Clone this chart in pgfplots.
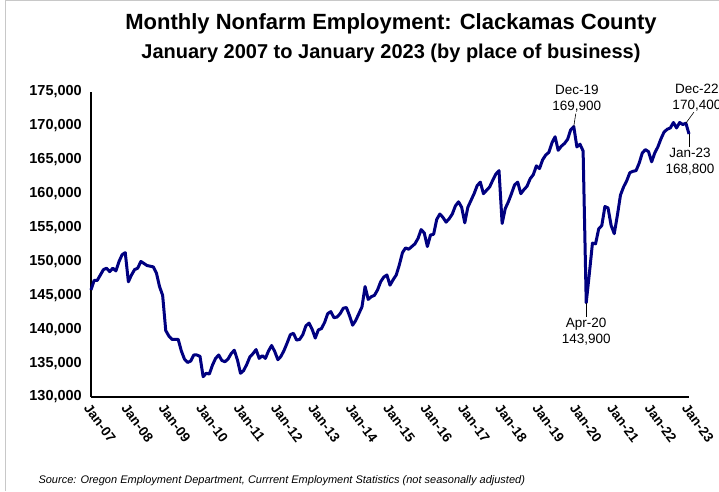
\documentclass[border=0pt]{standalone}
\usepackage{pgfplots}
\pgfplotsset{compat=1.18}
\usepackage{pgfplotstable}
\usepackage{fontspec}
\setmainfont{Liberation Sans}
\definecolor{navy}{RGB}{0,0,128}
\definecolor{framegray}{RGB}{200,200,200}
\pgfplotstableread{
m v
0 145800
1 147200
2 147200
3 148000
4 148800
5 149000
6 148500
7 149000
8 148600
9 150000
10 151000
11 151300
12 147000
13 148000
14 148800
15 149000
16 150000
17 149700
18 149400
19 149300
20 149200
21 148300
22 146300
23 145000
24 139800
25 139000
26 138500
27 138500
28 138500
29 136800
30 135600
31 135100
32 135300
33 136200
34 136200
35 136000
36 133000
37 133500
38 133400
39 134700
40 135700
41 136200
42 135400
43 135200
44 135600
45 136400
46 136900
47 135500
48 133500
49 133900
50 134800
51 135900
52 136400
53 137000
54 135700
55 136100
56 135700
57 136800
58 137600
59 136700
60 135500
61 136000
62 136900
63 138000
64 139200
65 139400
66 138400
67 138500
68 139200
69 140500
70 140900
71 140000
72 138700
73 139900
74 140100
75 141000
76 142300
77 142600
78 141700
79 141800
80 142300
81 143100
82 143200
83 142000
84 140600
85 141300
86 142300
87 143300
88 146300
89 144400
90 144800
91 145000
92 145800
93 147000
94 147700
95 148000
96 146500
97 147300
98 148000
99 149500
100 151300
101 152000
102 151800
103 152200
104 152600
105 153400
106 154700
107 154200
108 152200
109 153900
110 154000
111 156200
112 157000
113 156500
114 155800
115 156300
116 157000
117 158200
118 158800
119 158000
120 155700
121 158000
122 159000
123 160000
124 161200
125 161700
126 160000
127 160500
128 161000
129 162000
130 162900
131 163400
132 155600
133 157800
134 158800
135 160000
136 161300
137 161700
138 160000
139 160600
140 161100
141 162200
142 162800
143 164100
144 163700
145 165000
146 165700
147 166100
148 167500
149 168400
150 166400
151 167000
152 167400
153 168000
154 169400
155 169900
156 166900
157 167300
158 166300
159 143900
160 148200
161 152700
162 152600
163 154800
164 155300
165 158100
166 157900
167 155300
168 154100
169 156800
170 159800
171 161000
172 161900
173 163100
174 163300
175 163400
176 164500
177 166000
178 166500
179 166200
180 164700
181 166000
182 166900
183 168100
184 169100
185 169500
186 169700
187 170500
188 169700
189 170500
190 170200
191 170400
192 168800
}\emp
\begin{document}
\begin{tikzpicture}
\path[use as bounding box] (0pt,0pt) rectangle (719pt,491pt);
\draw[framegray,line width=1pt] (5pt,0pt) -- (5pt,490.5pt) -- (719pt,490.5pt);
\node[font=\bfseries\fontsize{22}{26}\selectfont] at (391pt,467pt) {Monthly Nonfarm Employment: Clackamas County};
\node[font=\bfseries\fontsize{20}{24}\selectfont] at (391pt,438pt) {January 2007 to January 2023 (by place of business)};
\node[font=\itshape\fontsize{11}{13}\selectfont, anchor=base west] at (35pt,8pt) {Source: Oregon Employment Department, Currrent Employment Statistics (not seasonally adjusted)};
\begin{axis}[
  at={(91pt,94pt)}, anchor=south west,
  width=598pt, height=305pt, scale only axis,
  xmin=0, xmax=192, ymin=130000, ymax=175000,
  scaled y ticks=false,
  axis x line*=bottom, axis y line*=left,
  axis line style={black, line width=1.2pt, -},
  tick style={draw=none},
  clip=false,
  ytick={130000,135000,140000,145000,150000,155000,160000,165000,170000,175000},
  yticklabels={130{,}000,135{,}000,140{,}000,145{,}000,150{,}000,155{,}000,160{,}000,165{,}000,170{,}000,175{,}000},
  yticklabel style={font=\bfseries\fontsize{14.5}{16}\selectfont, anchor=east, inner sep=0pt, xshift=-9pt},
  xtick={0,12,24,36,48,60,72,84,96,108,120,132,144,156,168,180,192},
  xticklabels={Jan-07,Jan-08,Jan-09,Jan-10,Jan-11,Jan-12,Jan-13,Jan-14,Jan-15,Jan-16,Jan-17,Jan-18,Jan-19,Jan-20,Jan-21,Jan-22,Jan-23},
  xticklabel style={font=\bfseries\fontsize{13.5}{16}\selectfont, inner sep=0pt, xshift=0pt, yshift=-6pt, rotate=-53, anchor=north west},
]
\addplot[navy, line width=3pt, line join=round, no marks] table[x=m,y=v] {\emp};
\draw[black, line width=0.6pt] (axis cs:155,169900) -- ++(2pt,13pt);
\node[align=center, font=\fontsize{13.5}{16}\selectfont, anchor=south, inner sep=1pt] at ([xshift=3pt,yshift=13pt]axis cs:155,169900) {Dec-19\\169,900};
\draw[black, line width=0.6pt] (axis cs:159,143900) -- ++(0pt,-14pt);
\node[align=center, font=\fontsize{13.5}{16}\selectfont, anchor=north, inner sep=1pt] at ([xshift=0pt,yshift=-14pt]axis cs:159,143900) {Apr-20\\143,900};
\draw[black, line width=0.6pt] (axis cs:191,170400) -- ++(8pt,11pt);
\node[align=center, font=\fontsize{13.5}{16}\selectfont, anchor=south, inner sep=1pt] at ([xshift=11pt,yshift=11pt]axis cs:191,170400) {Dec-22\\170,400};
\draw[black, line width=0.6pt] (axis cs:192,168800) -- ++(0pt,-13pt);
\node[align=center, font=\fontsize{13.5}{16}\selectfont, anchor=north, inner sep=1pt] at ([xshift=1pt,yshift=-13pt]axis cs:192,168800) {Jan-23\\168,800};
\end{axis}
\end{tikzpicture}
\end{document}
